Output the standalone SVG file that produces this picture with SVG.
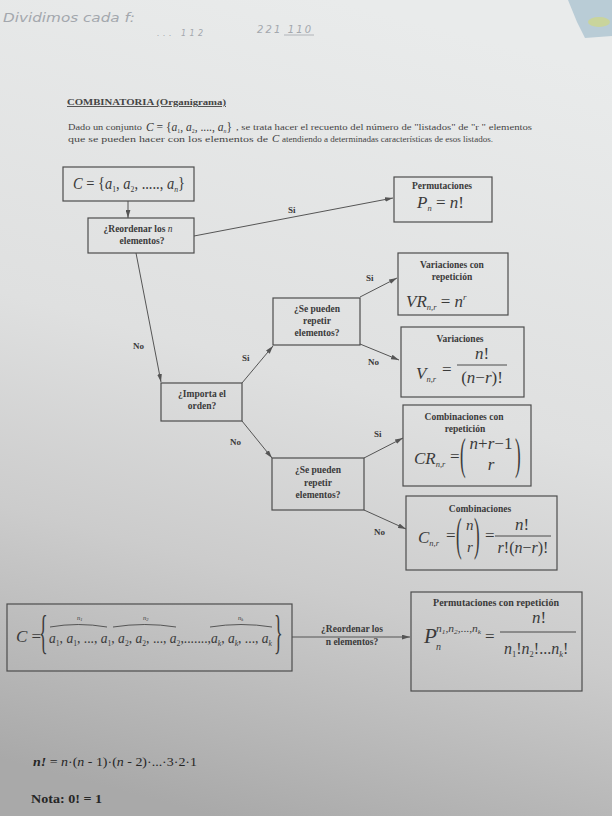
<svg xmlns="http://www.w3.org/2000/svg" width="612" height="816" viewBox="0 0 612 816">
<defs>
<linearGradient id="bg" x1="0.55" y1="0" x2="0.35" y2="1">
<stop offset="0" stop-color="#e9ebeb"/>
<stop offset="0.45" stop-color="#dfe0e0"/>
<stop offset="0.7" stop-color="#cccccc"/>
<stop offset="1" stop-color="#a9a9a9"/>
</linearGradient>
<marker id="ah" viewBox="0 0 10 6" refX="10" refY="3" markerWidth="8" markerHeight="5" orient="auto" markerUnits="userSpaceOnUse">
<path d="M0,0 L10,3 L0,6 z" fill="#555"/>
</marker>
<style>
.box{fill:none;stroke:#4d4d4d;stroke-width:1.2}
.b{font-family:"Liberation Serif",serif;font-weight:bold;font-size:9.5px;fill:#3a3a3a;text-anchor:middle}
.lbl{font-family:"Liberation Serif",serif;font-weight:bold;font-size:9px;fill:#3a3a3a}
.m{font-family:"Liberation Serif",serif;font-style:italic;font-size:17px;fill:#3a3a3a}
.u{font-style:normal}
.s{font-size:8.5px}
.p{font-family:"Liberation Serif",serif;font-size:9px;fill:#454545}
.hw{font-family:"DejaVu Sans",sans-serif;font-style:oblique;font-size:12px;fill:#a3a7ad}
.con line{stroke:#555;stroke-width:1;fill:none}
.arr{marker-end:url(#ah)}
.brace{fill:none;stroke:#3a3a3a;stroke-width:0.8}
</style>
</defs>
<rect width="612" height="816" fill="url(#bg)"/>
<polygon points="568,0 612,0 612,36 585,38 577,22" fill="#b9ccd6"/>
<ellipse cx="599" cy="22" rx="11" ry="5" fill="#c9d49c"/>

<!-- handwriting -->
<text class="hw" x="3" y="22" textLength="132" lengthAdjust="spacingAndGlyphs">Dividimos cada f:</text>
<text class="hw" x="157" y="36" style="font-size:8px" textLength="46" lengthAdjust="spacing">... 112</text>
<text class="hw" x="257" y="33" style="font-size:10px" textLength="54" lengthAdjust="spacing">221 110</text>
<line x1="284" y1="35" x2="314" y2="35" stroke="#a3a7ad" stroke-width="0.8"/>

<!-- heading -->
<text class="p" x="67" y="105" font-weight="bold" text-decoration="underline" textLength="159" lengthAdjust="spacingAndGlyphs">COMBINATORIA  (Organigrama)</text>
<text class="p" x="68" y="130" textLength="74" lengthAdjust="spacingAndGlyphs">Dado un conjunto</text>
<text class="m" x="146" y="131" style="font-size:12px" textLength="86" lengthAdjust="spacingAndGlyphs">C<tspan class="u"> = {</tspan>a<tspan class="u" style="font-size:6px" dy="2">1</tspan><tspan class="u" dy="-2">, </tspan>a<tspan class="u" style="font-size:6px" dy="2">2</tspan><tspan class="u" dy="-2">, ...., </tspan>a<tspan style="font-size:6px" dy="2">n</tspan><tspan class="u" dy="-2">}</tspan></text>
<text class="p" x="236" y="130" textLength="296" lengthAdjust="spacingAndGlyphs">, se trata hacer el recuento del número de  "listados" de "r " elementos</text>
<text class="p" x="68" y="142" textLength="200" lengthAdjust="spacingAndGlyphs">que se pueden hacer con los elementos de</text>
<text class="m" x="272" y="142" style="font-size:11px">C</text>
<text class="p" x="282" y="142" textLength="211" lengthAdjust="spacingAndGlyphs">atendiendo a determinadas características de esos listados.</text>

<!-- connectors -->
<g id="connectors" class="con">
<line class="arr" x1="128" y1="201" x2="128" y2="218"/>
<line class="arr" x1="194" y1="236" x2="393" y2="198"/>
<line class="arr" x1="136" y1="253" x2="161" y2="382"/>
<line class="arr" x1="242" y1="383" x2="273" y2="346"/>
<line class="arr" x1="360" y1="297" x2="397" y2="278"/>
<line class="arr" x1="360" y1="344" x2="399" y2="360"/>
<line class="arr" x1="242" y1="421" x2="272" y2="458"/>
<line class="arr" x1="364" y1="458" x2="403" y2="438"/>
<line class="arr" x1="364" y1="510" x2="406" y2="529"/>
<line class="arr" x1="292" y1="637" x2="410" y2="637"/>
<text class="lbl" x="288" y="213">Si</text>
<text class="lbl" x="133" y="349">No</text>
<text class="lbl" x="242" y="361">Si</text>
<text class="lbl" x="366" y="281">Si</text>
<text class="lbl" x="368" y="365">No</text>
<text class="lbl" x="230" y="445">No</text>
<text class="lbl" x="374" y="437">Si</text>
<text class="lbl" x="374" y="535">No</text>
<text class="b" x="352" y="632">¿Reordenar los</text>
<text class="b" x="352" y="645">n elementos?</text>
</g>

<!-- nodes -->
<g id="set">
<rect class="box" x="63" y="167" width="131" height="34"/>
<text class="m" x="73" y="189" style="font-size:16px" textLength="112" lengthAdjust="spacingAndGlyphs">C<tspan class="u"> = {</tspan>a<tspan class="s u" dy="3">1</tspan><tspan class="u" dy="-3">, </tspan>a<tspan class="s u" dy="3">2</tspan><tspan class="u" dy="-3">, ....., </tspan>a<tspan class="s" dy="3">n</tspan><tspan class="u" dy="-3">}</tspan></text>
</g>

<g id="reordenar">
<rect class="box" x="88" y="218" width="106" height="35"/>
<text class="b" x="138" y="232">¿Reordenar los <tspan font-style="italic" font-weight="normal">n</tspan></text>
<text class="b" x="142" y="244">elementos?</text>
</g>

<g id="permutaciones">
<rect class="box" x="394" y="177" width="98" height="45"/>
<text class="b" x="442" y="189">Permutaciones</text>
<text class="m" x="417" y="208">P<tspan class="s" dy="3">n</tspan><tspan class="u" dy="-3"> = </tspan>n<tspan class="u">!</tspan></text>
</g>

<g id="importa">
<rect class="box" x="161" y="383" width="81" height="38"/>
<text class="b" x="202" y="397">¿Importa el</text>
<text class="b" x="202" y="409">orden?</text>
</g>

<g id="repetir1">
<rect class="box" x="273" y="298" width="87" height="47"/>
<text class="b" x="317" y="312">¿Se pueden</text>
<text class="b" x="317" y="324">repetir</text>
<text class="b" x="317" y="336">elementos?</text>
</g>

<g id="variaciones-rep">
<rect class="box" x="398" y="253" width="110" height="62"/>
<text class="b" x="452" y="268">Variaciones con</text>
<text class="b" x="452" y="280">repetición</text>
<text class="m" x="406" y="307">VR<tspan class="s" dy="3">n,r</tspan><tspan class="u" dy="-3"> = </tspan>n<tspan style="font-size:9px" dy="-7">r</tspan></text>
</g>

<g id="variaciones">
<rect class="box" x="401" y="327" width="123" height="70"/>
<text class="b" x="460" y="342">Variaciones</text>
<text class="m" x="416" y="379">V<tspan class="s" dy="3">n,r</tspan></text>
<text class="m u" x="442" y="375">=</text>
<text class="m" x="482" y="359" text-anchor="middle">n<tspan class="u">!</tspan></text>
<line x1="457" y1="365" x2="507" y2="365" stroke="#3a3a3a" stroke-width="0.9"/>
<text class="m" x="482" y="383" text-anchor="middle"><tspan class="u">(</tspan>n<tspan class="u">−</tspan>r<tspan class="u">)!</tspan></text>
</g>

<g id="repetir2">
<rect class="box" x="272" y="458" width="92" height="52"/>
<text class="b" x="318" y="473">¿Se pueden</text>
<text class="b" x="318" y="486">repetir</text>
<text class="b" x="318" y="498">elementos?</text>
</g>

<g id="combinaciones-rep">
<rect class="box" x="403" y="405" width="128" height="81"/>
<text class="b" x="464" y="420">Combinaciones con</text>
<text class="b" x="465" y="432">repetición</text>
<text class="m" x="414" y="464">CR<tspan class="s" dy="3">n,r</tspan></text>
<text class="m u" x="450" y="462">=</text>
<text class="m u" transform="translate(460,469) scale(1,2.65)">(</text>
<text class="m" x="491" y="449" text-anchor="middle">n<tspan class="u">+</tspan>r<tspan class="u">−1</tspan></text>
<text class="m" x="491" y="470" text-anchor="middle">r</text>
<text class="m u" transform="translate(515,469) scale(1,2.65)">)</text>
</g>

<g id="combinaciones">
<rect class="box" x="406" y="496" width="151" height="74"/>
<text class="b" x="480" y="512">Combinaciones</text>
<text class="m" x="418" y="543">C<tspan class="s" dy="3">n,r</tspan></text>
<text class="m u" x="446" y="541">=</text>
<text class="m u" transform="translate(456,550) scale(1,2.7)">(</text>
<text class="m" x="466" y="530" style="font-size:15px">n</text>
<text class="m" x="467" y="552" style="font-size:15px">r</text>
<text class="m u" transform="translate(474,550) scale(1,2.7)">)</text>
<text class="m u" x="485" y="541">=</text>
<text class="m" x="522" y="530" text-anchor="middle">n<tspan class="u">!</tspan></text>
<line x1="495" y1="536" x2="551" y2="536" stroke="#3a3a3a" stroke-width="0.9"/>
<text class="m" x="523" y="553" text-anchor="middle" style="font-size:16px">r<tspan class="u">!(</tspan>n<tspan class="u">−</tspan>r<tspan class="u">)!</tspan></text>
</g>

<g id="multiconjunto">
<rect class="box" x="7" y="604" width="285" height="67"/>
<text class="m" x="16" y="642">C<tspan class="u"> =</tspan></text>
<text class="m u" transform="translate(39,648) scale(1,2.6)" style="font-size:18px">{</text>
<text class="m" x="49" y="643" style="font-size:15px" textLength="223" lengthAdjust="spacingAndGlyphs">a<tspan class="s u" dy="3">1</tspan><tspan class="u" dy="-3">, </tspan>a<tspan class="s u" dy="3">1</tspan><tspan class="u" dy="-3">, ..., </tspan>a<tspan class="s u" dy="3">1</tspan><tspan class="u" dy="-3">, </tspan>a<tspan class="s u" dy="3">2</tspan><tspan class="u" dy="-3">, </tspan>a<tspan class="s u" dy="3">2</tspan><tspan class="u" dy="-3">, ..., </tspan>a<tspan class="s u" dy="3">2</tspan><tspan class="u" dy="-3">,.......,</tspan>a<tspan class="s" dy="3">k</tspan><tspan class="u" dy="-3">, </tspan>a<tspan class="s" dy="3">k</tspan><tspan class="u" dy="-3">, ..., </tspan>a<tspan class="s" dy="3">k</tspan></text>
<text class="m u" transform="translate(274,648) scale(1,2.6)" style="font-size:18px">}</text>
<path class="brace" d="M50,627 Q78,622 107,627"/>
<path class="brace" d="M113,627 Q145,622 176,627"/>
<path class="brace" d="M210,627 Q241,622 272,627"/>
<text class="m" x="77" y="620" style="font-size:6.5px">n<tspan style="font-size:4.5px" dy="1">1</tspan></text>
<text class="m" x="143" y="620" style="font-size:6.5px">n<tspan style="font-size:4.5px" dy="1">2</tspan></text>
<text class="m" x="238" y="620" style="font-size:6.5px">n<tspan style="font-size:4.5px" dy="1">k</tspan></text>
</g>

<g id="permutaciones-rep">
<rect class="box" x="411" y="592" width="171" height="99"/>
<text class="b" x="496" y="606" style="font-size:10px">Permutaciones con repetición</text>
<text class="m" x="424" y="643" style="font-size:21px">P</text>
<text class="m" x="436" y="632" style="font-size:11px" textLength="45" lengthAdjust="spacingAndGlyphs">n<tspan style="font-size:7px" dy="2">1</tspan><tspan class="u" dy="-2">,</tspan>n<tspan style="font-size:7px" dy="2">2</tspan><tspan class="u" dy="-2">,...,</tspan>n<tspan style="font-size:7px" dy="2">k</tspan></text>
<text class="m" x="436" y="650" style="font-size:10px">n</text>
<text class="m u" x="485" y="642">=</text>
<text class="m" x="539" y="623" text-anchor="middle">n<tspan class="u">!</tspan></text>
<line x1="500" y1="632" x2="576" y2="632" stroke="#3a3a3a" stroke-width="0.9"/>
<text class="m" x="504" y="654" style="font-size:16px">n<tspan class="s u" dy="3">1</tspan><tspan class="u" dy="-3">!</tspan>n<tspan class="s u" dy="3">2</tspan><tspan class="u" dy="-3">!...</tspan>n<tspan class="s" dy="3">k</tspan><tspan class="u" dy="-3">!</tspan></text>
</g>

<!-- footer -->
<text x="33" y="766" font-family="'Liberation Serif',serif" font-size="12" fill="#262626" textLength="164" lengthAdjust="spacingAndGlyphs"><tspan font-style="italic" font-weight="bold">n!</tspan> = <tspan font-style="italic">n</tspan>·(<tspan font-style="italic">n</tspan> - 1)·(<tspan font-style="italic">n</tspan> - 2)·...·3·2·1</text>
<text x="31" y="803" font-family="'Liberation Serif',serif" font-size="13" font-weight="bold" fill="#262626" textLength="71" lengthAdjust="spacingAndGlyphs">Nota: 0! = 1</text>
</svg>
